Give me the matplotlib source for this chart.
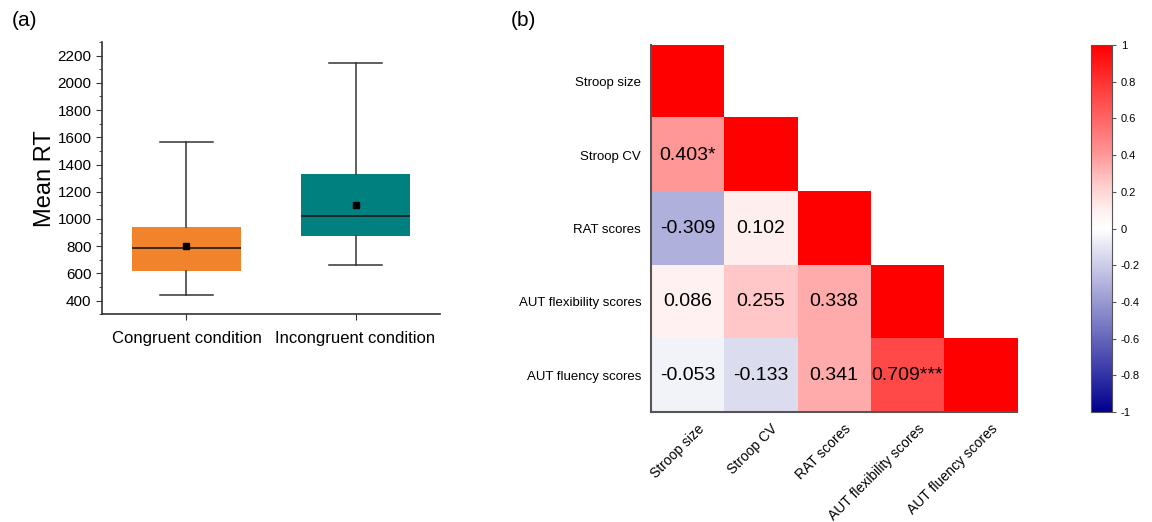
import numpy as np
import matplotlib
matplotlib.use('Agg')
from matplotlib import pyplot as plt
from matplotlib.colors import LinearSegmentedColormap
from matplotlib.ticker import MultipleLocator
import matplotlib.transforms as mtransforms

plt.rcParams['font.family'] = ['Liberation Sans', 'DejaVu Sans']

# (a) box plot summary values
conditions = ['Congruent condition', 'Incongruent condition']
whisker_low = [440, 660]
q1 = [620, 875]
medians = [785, 1020]
q3 = [940, 1330]
whisker_high = [1565, 2145]
means = [800, 1100]
box_colors = ['#F0832B', '#00807F']

# (b) correlation matrix (lower triangle)
variables = ['Stroop size', 'Stroop CV', 'RAT scores',
             'AUT flexibility scores', 'AUT fluency scores']
corr = np.array([
    [1.0, np.nan, np.nan, np.nan, np.nan],
    [0.403, 1.0, np.nan, np.nan, np.nan],
    [-0.309, 0.102, 1.0, np.nan, np.nan],
    [0.086, 0.255, 0.338, 1.0, np.nan],
    [-0.053, -0.133, 0.341, 0.709, 1.0],
])
stars = np.array([
    ['', '', '', '', ''],
    ['*', '', '', '', ''],
    ['', '', '', '', ''],
    ['', '', '', '', ''],
    ['', '', '', '***', ''],
])

fig = plt.figure(figsize=(11.52, 5.22), dpi=100)

# ---- panel (a)
ax1 = fig.add_axes([0.0885, 0.398, 0.2935, 0.5215])
stats = []
for i in range(len(conditions)):
    stats.append(dict(med=medians[i], q1=q1[i], q3=q3[i],
                      whislo=whisker_low[i], whishi=whisker_high[i],
                      mean=means[i], fliers=[], label=conditions[i]))
bp = ax1.bxp(stats, positions=[1, 2], widths=0.64, patch_artist=True,
             showmeans=True, showfliers=False,
             whiskerprops=dict(color='#333333', lw=1.1),
             capprops=dict(color='#333333', lw=1.1),
             medianprops=dict(color='#1a1a1a', lw=1.2),
             meanprops=dict(marker='s', markerfacecolor='black',
                            markeredgecolor='black', markersize=5),
             boxprops=dict(lw=0))
for patch, c in zip(bp['boxes'], box_colors):
    patch.set_facecolor(c)
    patch.set_edgecolor(c)
for cap in bp['caps']:
    mid = cap.get_xdata().mean()
    cap.set_xdata([mid - 0.155, mid + 0.155])

ax1.set_xlim(0.5, 2.5)
ax1.set_ylim(300, 2300)
ax1.set_yticks(np.arange(400, 2201, 200))
ax1.yaxis.set_minor_locator(MultipleLocator(100))
ax1.spines['top'].set_visible(False)
ax1.spines['right'].set_visible(False)
for s in ['left', 'bottom']:
    ax1.spines[s].set_color('#333333')
    ax1.spines[s].set_linewidth(1.2)
ax1.tick_params(axis='y', labelsize=11, length=4, color='#333333')
ax1.tick_params(axis='y', which='minor', length=2, color='#333333')
ax1.tick_params(axis='x', labelsize=12, length=4, color='#333333', pad=8)
ax1.set_ylabel('Mean RT', fontsize=17, labelpad=1)
fig.text(0.010, 0.96, '(a)', fontsize=15, va='center')

# ---- panel (b)
# colour ramp: pale near zero on the positive side
nodes = [(0.0, '#00008F'), (0.5, '#FFFFFF'),
         (0.55, '#FFF0F0'), (0.625, '#FFC9C9'), (0.7, '#FF9898'), (1.0, '#FF0000')]
cmap = LinearSegmentedColormap.from_list('bwr2', nodes)
ax2 = fig.add_axes([0.565, 0.2107, 0.318, 0.7031])
n = len(variables)
im = ax2.imshow(np.ma.masked_invalid(corr), cmap=cmap, vmin=-1, vmax=1,
                aspect='auto', interpolation='nearest')
for i in range(n):
    for j in range(i):
        ax2.text(j, i, f'{corr[i, j]:.3f}' + stars[i, j], ha='center',
                 va='center', fontsize=14, color='black')
ax2.set_xticks(range(n))
ax2.set_yticks(range(n))
ax2.set_xticklabels(variables, rotation=45, ha='right', rotation_mode='anchor',
                    fontsize=10)
ax2.set_yticklabels(variables, fontsize=9.5)
ax2.tick_params(length=0, pad=7)
shift = mtransforms.ScaledTranslation(10 / 100, 0, fig.dpi_scale_trans)
for lab in ax2.get_xticklabels():
    lab.set_transform(lab.get_transform() + shift)
ax2.spines['top'].set_visible(False)
ax2.spines['right'].set_visible(False)
for s in ['left', 'bottom']:
    ax2.spines[s].set_color('#555555')
    ax2.spines[s].set_linewidth(1.5)
fig.text(0.443, 0.96, '(b)', fontsize=15, va='center')

cax = fig.add_axes([0.947, 0.2107, 0.018, 0.7031])
cb = fig.colorbar(im, cax=cax, ticks=np.arange(-1, 1.01, 0.2))
cb.ax.set_yticklabels(['-1', '-0.8', '-0.6', '-0.4', '-0.2', '0',
                       '0.2', '0.4', '0.6', '0.8', '1'])
cb.ax.tick_params(labelsize=8, length=3, color='#555555')
cb.outline.set_edgecolor('#555555')

fig.savefig('out.png', dpi=100)
